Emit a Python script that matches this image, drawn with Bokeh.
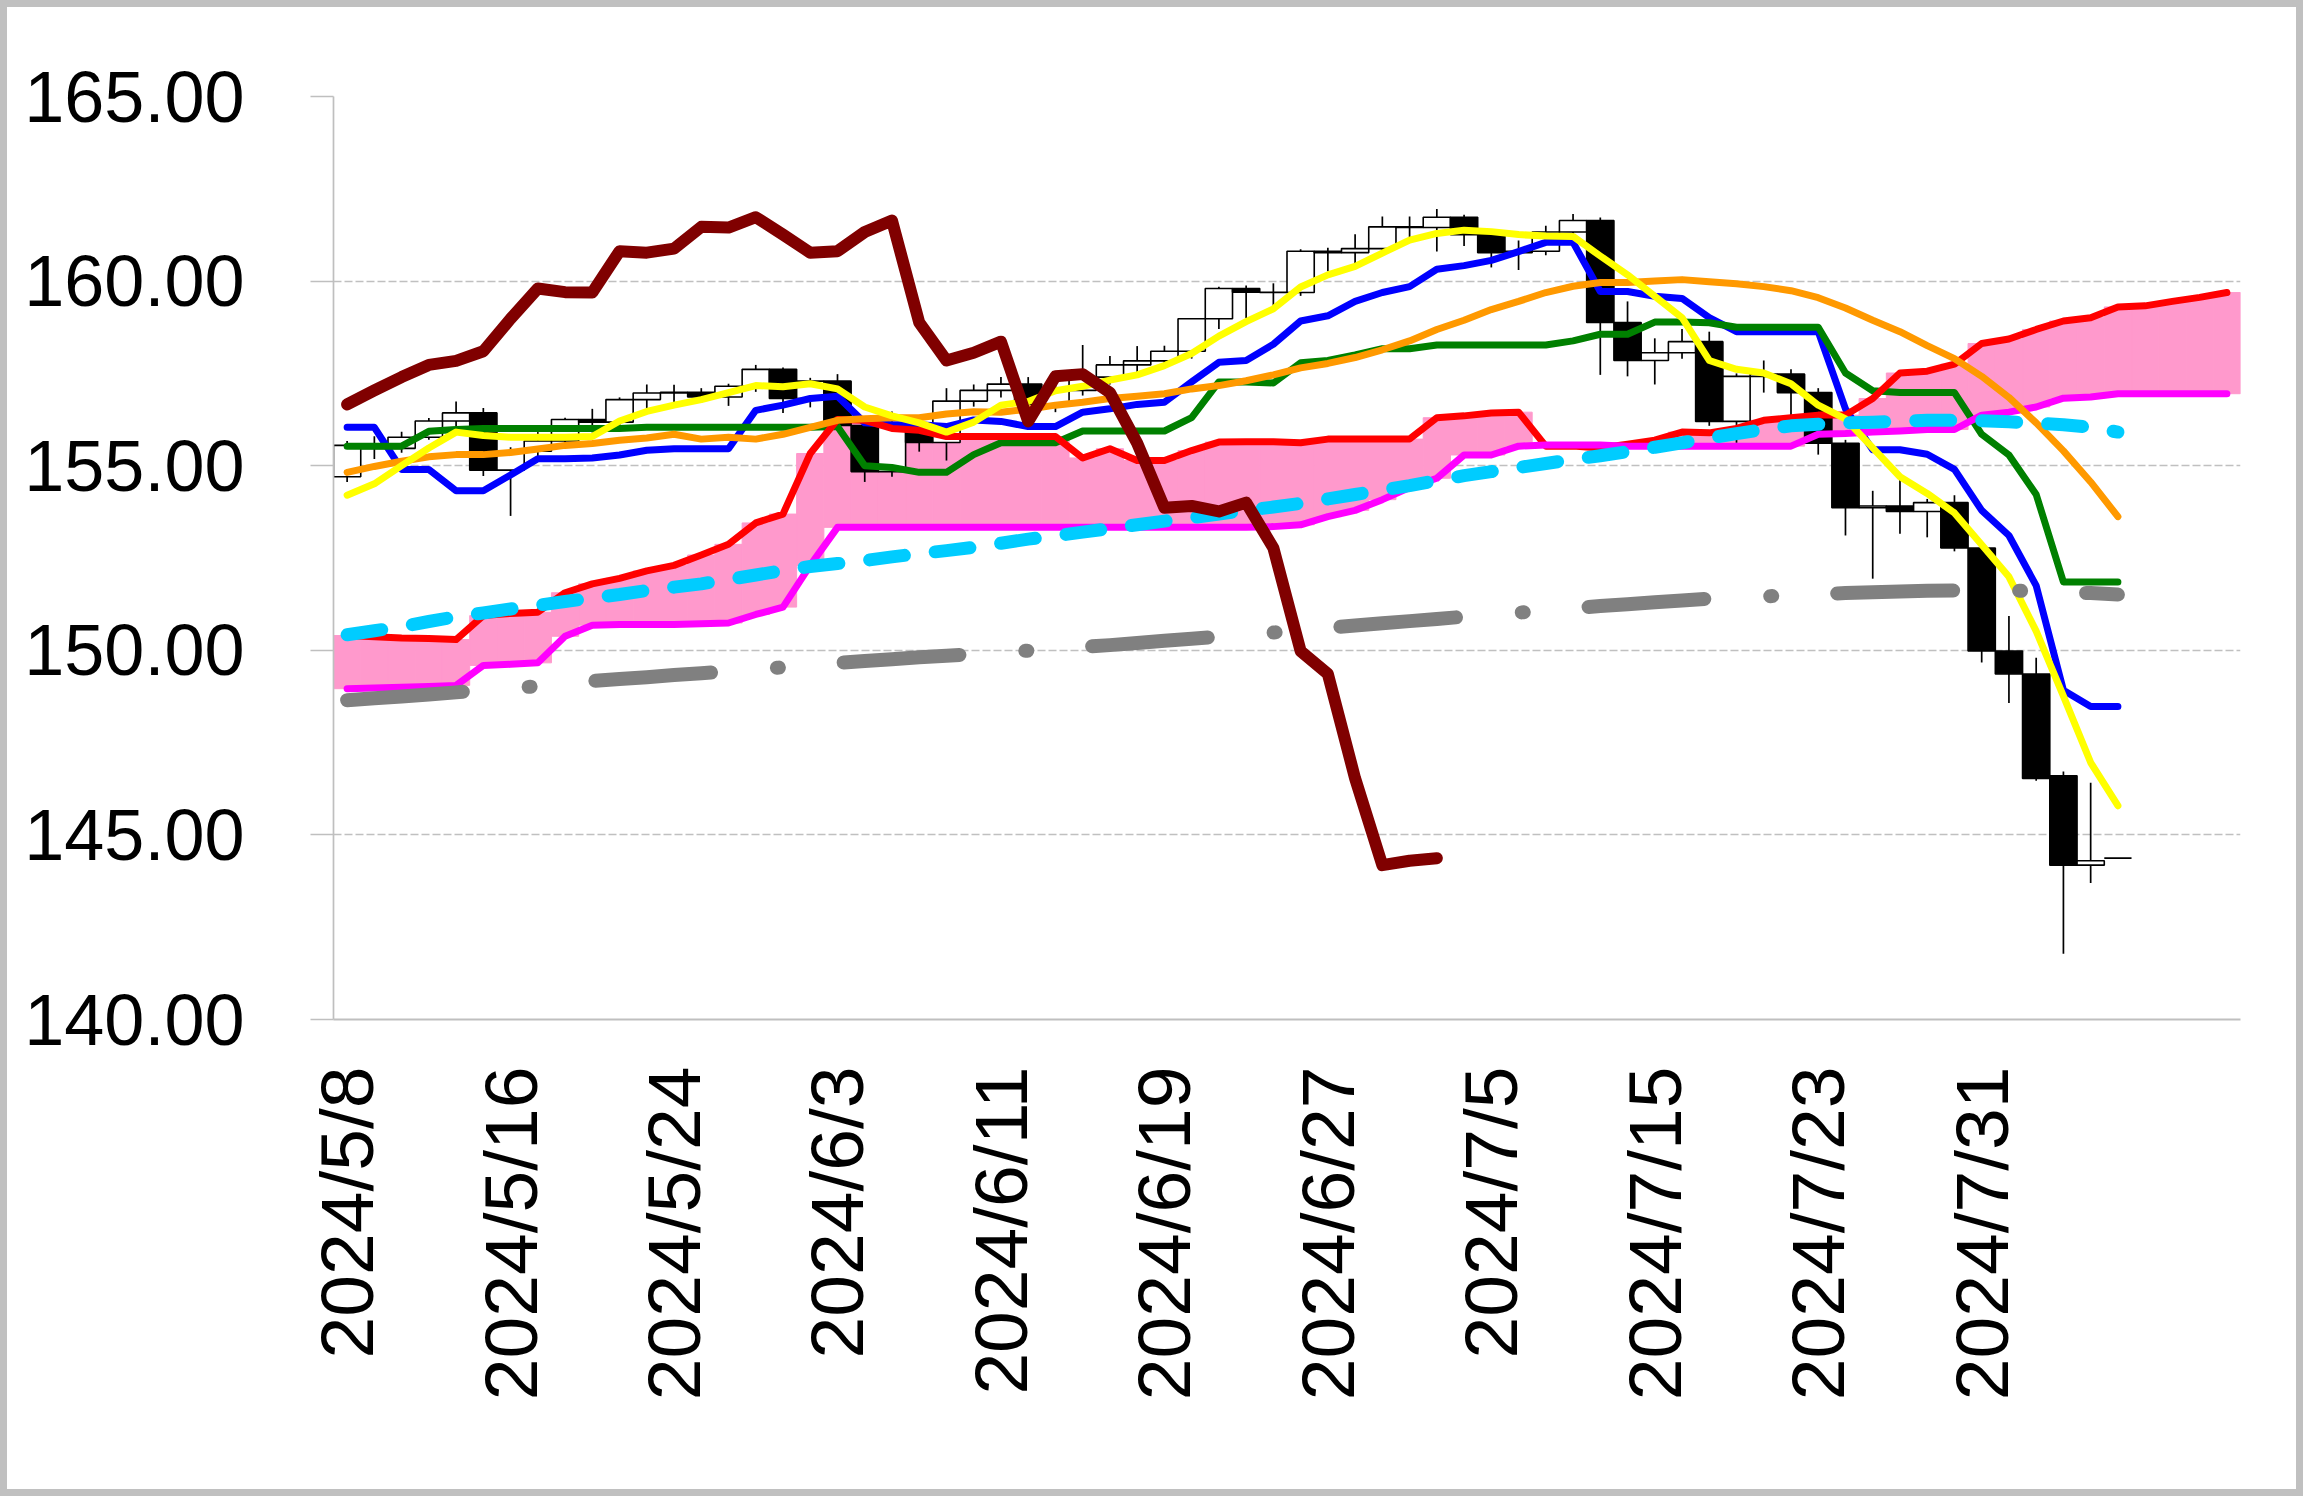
import math
from bokeh.plotting import figure
from bokeh.models import Range1d, FixedTicker, NumeralTickFormatter
from bokeh.embed import file_html
from bokeh.resources import INLINE

# ---------------- data ----------------
dates = [
    "2024/5/8", "2024/5/9", "2024/5/10", "2024/5/13", "2024/5/14", "2024/5/15", "2024/5/16", "2024/5/17",
    "2024/5/20", "2024/5/21", "2024/5/22", "2024/5/23", "2024/5/24", "2024/5/27", "2024/5/28", "2024/5/29",
    "2024/5/30", "2024/5/31", "2024/6/3", "2024/6/4", "2024/6/5", "2024/6/6", "2024/6/7", "2024/6/10",
    "2024/6/11", "2024/6/12", "2024/6/13", "2024/6/14", "2024/6/17", "2024/6/18", "2024/6/19", "2024/6/20",
    "2024/6/21", "2024/6/24", "2024/6/25", "2024/6/26", "2024/6/27", "2024/6/28", "2024/7/1", "2024/7/2",
    "2024/7/3", "2024/7/4", "2024/7/5", "2024/7/8", "2024/7/9", "2024/7/10", "2024/7/11", "2024/7/12",
    "2024/7/15", "2024/7/16", "2024/7/17", "2024/7/18", "2024/7/19", "2024/7/22", "2024/7/23", "2024/7/24",
    "2024/7/25", "2024/7/26", "2024/7/29", "2024/7/30", "2024/7/31", "2024/8/1", "2024/8/2", "2024/8/5",
    "2024/8/6", "2024/8/7", "2024/8/8", "2024/8/9", "2024/8/12", "2024/8/13",
]

open_ = [154.70, 155.55, 155.47, 155.77, 156.21, 156.43, 154.88, 155.39, 155.67, 156.25,
         156.18, 156.79, 156.97, 156.99, 156.86, 157.15, 157.61, 156.82, 157.29, 156.09,
         154.84, 156.11, 155.63, 156.75, 157.04, 157.21, 156.66, 157.04, 157.40, 157.73,
         157.84, 158.10, 158.98, 159.80, 159.70, 159.69, 160.81, 160.77, 160.88, 161.47,
         161.45, 161.73, 161.26, 160.77, 160.81, 161.33, 161.64, 158.88, 157.85, 158.06,
         158.36, 156.20, 157.42, 157.48, 156.98, 155.61, 153.86, 153.91, 153.76, 154.00,
         152.77, 149.98, 149.36, 146.60, 144.18, 144.37]
high = [155.67, 155.80, 155.92, 156.29, 156.74, 156.56, 155.50, 155.91, 156.30, 156.54,
        156.85, 157.20, 157.19, 157.10, 157.22, 157.73, 157.66, 157.38, 157.48, 156.20,
        156.47, 156.25, 157.10, 157.20, 157.40, 157.40, 157.20, 158.27, 157.97, 158.24,
        158.25, 159.00, 159.85, 159.88, 159.94, 160.86, 160.90, 161.27, 161.75, 161.75,
        161.95, 161.80, 161.30, 161.10, 161.50, 161.82, 161.72, 159.45, 158.45, 158.70,
        158.63, 157.50, 157.85, 157.61, 157.10, 155.70, 154.32, 154.70, 154.10, 154.20,
        152.90, 150.93, 149.80, 146.72, 146.41, 144.37]
low = [154.56, 155.18, 155.35, 155.70, 156.00, 154.72, 153.64, 155.10, 155.60, 155.90,
       156.00, 156.54, 156.68, 156.70, 156.62, 157.00, 156.43, 156.58, 156.00, 154.56,
       154.70, 155.38, 155.14, 156.60, 156.85, 156.40, 156.45, 156.90, 157.20, 157.50,
       157.70, 157.90, 158.70, 159.00, 159.30, 159.60, 160.27, 160.46, 160.80, 161.07,
       160.80, 160.95, 160.37, 160.30, 160.70, 161.20, 157.46, 157.42, 157.20, 157.90,
       156.08, 155.62, 156.98, 156.35, 155.30, 153.11, 151.94, 153.16, 153.06, 152.68,
       149.67, 148.57, 146.47, 141.78, 143.70, 144.37]
close = [155.55, 155.47, 155.77, 156.21, 156.43, 154.88, 155.39, 155.67, 156.25, 156.18,
         156.79, 156.97, 156.99, 156.86, 157.15, 157.61, 156.82, 157.29, 156.09, 154.84,
         156.11, 155.63, 156.75, 157.04, 157.21, 156.66, 157.04, 157.40, 157.73, 157.84,
         158.10, 158.98, 159.80, 159.70, 159.69, 160.81, 160.77, 160.88, 161.47, 161.45,
         161.73, 161.26, 160.77, 160.81, 161.33, 161.64, 158.88, 157.85, 158.06, 158.36,
         156.20, 157.42, 157.48, 156.98, 155.61, 153.86, 153.91, 153.76, 154.00, 152.77,
         149.98, 149.36, 146.53, 144.18, 144.30, 144.37]

tenkan = [156.04, 156.04, 154.90, 154.90, 154.32, 154.32, 154.75, 155.19, 155.19, 155.21,
          155.29, 155.42, 155.46, 155.46, 155.46, 156.50, 156.64, 156.82, 156.88, 156.16,
          156.11, 156.11, 156.06, 156.24, 156.20, 156.06, 156.06, 156.45, 156.54, 156.66,
          156.72, 157.27, 157.80, 157.85, 158.29, 158.92, 159.06, 159.45, 159.69, 159.85,
          160.32, 160.42, 160.56, 160.80, 161.05, 161.05, 159.72, 159.72, 159.59, 159.53,
          159.01, 158.63, 158.63, 158.63, 158.63, 156.54, 155.43, 155.43, 155.31, 154.90,
          153.79, 153.11, 151.75, 148.92, 148.48, 148.48]
kijun = [155.53, 155.53, 155.53, 155.93, 155.98, 156.01, 156.01, 156.01, 156.01, 156.01,
         156.01, 156.04, 156.04, 156.04, 156.04, 156.04, 156.04, 156.04, 156.06, 155.00,
         154.95, 154.82, 154.82, 155.30, 155.62, 155.62, 155.62, 155.94, 155.94, 155.94,
         155.94, 156.30, 157.27, 157.27, 157.24, 157.79, 157.85, 158.00, 158.17, 158.17,
         158.27, 158.27, 158.27, 158.27, 158.27, 158.38, 158.56, 158.56, 158.89, 158.89,
         158.87, 158.75, 158.75, 158.75, 158.75, 157.51, 157.03, 156.98, 156.98, 156.98,
         155.85, 155.29, 154.22, 151.85, 151.85, 151.85]
senkou_a = [150.40, 150.37, 150.33, 150.32, 150.29, 150.94, 151.00, 151.03, 151.56, 151.80,
            151.95, 152.15, 152.30, 152.58, 152.87, 153.45, 153.69, 155.33, 156.25, 156.23,
            156.01, 155.96, 155.79, 155.79, 155.79, 155.79, 155.79, 155.21, 155.46, 155.14,
            155.14, 155.41, 155.64, 155.65, 155.65, 155.62, 155.72, 155.72, 155.72, 155.72,
            156.30, 156.35, 156.43, 156.45, 155.53, 155.53, 155.48, 155.58, 155.69, 155.91,
            155.89, 156.01, 156.23, 156.30, 156.37, 156.37, 156.82, 157.51, 157.56, 157.75,
            158.31, 158.43, 158.69, 158.92, 159.01, 159.30, 159.33, 159.45, 159.56, 159.69]
senkou_b = [148.96, 148.98, 149.00, 149.02, 149.05, 149.59, 149.62, 149.66, 150.38, 150.68,
            150.70, 150.70, 150.70, 150.72, 150.74, 150.97, 151.17, 152.30, 153.33, 153.33,
            153.33, 153.33, 153.33, 153.33, 153.33, 153.33, 153.33, 153.33, 153.33, 153.33,
            153.33, 153.33, 153.33, 153.33, 153.35, 153.40, 153.62, 153.79, 154.08, 154.41,
            154.66, 155.29, 155.29, 155.53, 155.56, 155.56, 155.56, 155.53, 155.53, 155.53,
            155.53, 155.53, 155.53, 155.53, 155.85, 155.87, 155.91, 155.94, 155.98, 155.98,
            156.37, 156.45, 156.59, 156.83, 156.86, 156.95, 156.95, 156.95, 156.95, 156.95]
chikou = [156.66, 157.04, 157.40, 157.73, 157.84, 158.10, 158.98, 159.80, 159.70, 159.69,
          160.81, 160.77, 160.88, 161.47, 161.45, 161.73, 161.26, 160.77, 160.81, 161.33,
          161.64, 158.88, 157.85, 158.06, 158.36, 156.20, 157.42, 157.48, 156.98, 155.61,
          153.86, 153.91, 153.76, 154.00, 152.77, 149.98, 149.36, 146.53, 144.18, 144.30,
          144.37]
ma_short = [154.20, 154.51, 155.00, 155.48, 155.91, 155.82, 155.77, 155.77, 155.77, 155.79,
            156.21, 156.47, 156.64, 156.79, 156.98, 157.17, 157.14, 157.22, 157.08, 156.59,
            156.35, 156.16, 155.91, 156.18, 156.64, 156.74, 157.03, 157.15, 157.32, 157.46,
            157.71, 158.04, 158.51, 158.90, 159.25, 159.84, 160.17, 160.40, 160.76, 161.11,
            161.29, 161.38, 161.34, 161.26, 161.22, 161.21, 160.68, 160.17, 159.59, 159.01,
            157.85, 157.61, 157.51, 157.22, 156.64, 156.27, 155.48, 154.70, 154.25, 153.72,
            152.86, 151.99, 150.52, 148.76, 146.96, 145.79]
ma_mid = [154.82, 154.98, 155.12, 155.24, 155.30, 155.30, 155.36, 155.45, 155.55, 155.60,
          155.69, 155.75, 155.85, 155.72, 155.77, 155.72, 155.85, 156.04, 156.23, 156.27,
          156.30, 156.30, 156.40, 156.46, 156.45, 156.53, 156.64, 156.72, 156.82, 156.88,
          156.95, 157.08, 157.17, 157.30, 157.46, 157.65, 157.77, 157.93, 158.14, 158.38,
          158.69, 158.94, 159.23, 159.45, 159.69, 159.86, 159.96, 159.96, 160.00, 160.04,
          159.98, 159.93, 159.85, 159.74, 159.55, 159.27, 158.94, 158.63, 158.25, 157.90,
          157.42, 156.85, 156.16, 155.40, 154.56, 153.62]
ma_long = [150.42, 150.53, 150.64, 150.78, 150.91, 151.01, 151.12, 151.22, 151.32, 151.42,
           151.51, 151.62, 151.71, 151.80, 151.92, 152.04, 152.16, 152.27, 152.35, 152.43,
           152.53, 152.62, 152.70, 152.79, 152.90, 153.01, 153.10, 153.20, 153.30, 153.40,
           153.50, 153.59, 153.69, 153.79, 153.88, 153.98, 154.10, 154.22, 154.34, 154.46,
           154.60, 154.73, 154.84, 154.95, 155.06, 155.17, 155.27, 155.38, 155.50, 155.62,
           155.75, 155.87, 155.98, 156.08, 156.12, 156.16, 156.18, 156.20, 156.23, 156.23,
           156.22, 156.19, 156.15, 156.11, 156.04, 155.91]
ma_very_long = [148.65, 148.70, 148.75, 148.80, 148.86, 148.92, 148.97, 149.03, 149.10, 149.17,
                149.22, 149.27, 149.33, 149.38, 149.43, 149.48, 149.54, 149.60, 149.66, 149.71,
                149.76, 149.81, 149.85, 149.90, 149.95, 149.99, 150.04, 150.09, 150.14, 150.20,
                150.26, 150.31, 150.37, 150.43, 150.48, 150.55, 150.61, 150.67, 150.73, 150.79,
                150.85, 150.91, 150.96, 151.02, 151.08, 151.14, 151.20, 151.25, 151.30, 151.35,
                151.40, 151.43, 151.46, 151.49, 151.52, 151.55, 151.57, 151.59, 151.61, 151.62,
                151.63, 151.62, 151.60, 151.58, 151.55, 151.51]

y_ticks = [140, 145, 150, 155, 160, 165]
label_step = 6

# ---------------- figure ----------------
FONT = "Liberation Sans"
n_all = len(dates)
n_c = len(close)
xs_all = list(range(n_all))
xs_c = list(range(n_c))

p = figure(frame_width=1907, frame_height=923,
           x_range=Range1d(-0.5, n_all - 0.5), y_range=Range1d(140, 165),
           output_backend="svg", toolbar_location=None,
           min_border_left=326, min_border_right=56, min_border_top=89, min_border_bottom=470,
           background_fill_color="white", border_fill_color="white")
p.outline_line_color = None
p.styles = {"border": "7px solid #C0C0C0", "box-sizing": "content-box"}

p.xgrid.visible = False
p.ygrid.grid_line_color = "#C0C0C0"
p.ygrid.grid_line_width = 1.5
p.ygrid.grid_line_dash = "8 3"

p.yaxis.ticker = FixedTicker(ticks=y_ticks)
p.yaxis.formatter = NumeralTickFormatter(format="0.00")
p.yaxis.major_label_text_font = FONT
p.yaxis.major_label_text_font_size = "72px"
p.yaxis.major_label_text_color = "black"
p.yaxis.axis_line_color = "#BFBFBF"
p.yaxis.axis_line_width = 1.7
p.yaxis.major_tick_line_color = "#BFBFBF"
p.yaxis.major_tick_line_width = 1.7
p.yaxis.major_tick_out = 23
p.yaxis.major_tick_in = 0
p.yaxis.minor_tick_line_color = None
p.yaxis.major_label_standoff = 66

tick_pos = list(range(0, n_c - 5, label_step))
p.xaxis.ticker = FixedTicker(ticks=tick_pos)
p.xaxis.major_label_overrides = {t: dates[t] for t in tick_pos}
p.xaxis.major_label_orientation = math.pi / 2
p.xaxis.major_label_text_font = FONT
p.xaxis.major_label_text_font_size = "75px"
p.xaxis.major_label_text_color = "black"
p.xaxis.axis_line_color = "#BFBFBF"
p.xaxis.axis_line_width = 2
p.xaxis.major_tick_line_color = None
p.xaxis.minor_tick_line_color = None
p.xaxis.major_label_standoff = 41

# cloud (between leading spans)
cloud_top = [max(a, b) for a, b in zip(senkou_a, senkou_b)]
cloud_bot = [min(a, b) for a, b in zip(senkou_a, senkou_b)]
p.vbar(x=xs_all, width=1.0, top=cloud_top, bottom=cloud_bot,
       fill_color="#FF99CC", line_color="#FF99CC", line_width=1)

# candles
body_top = [max(o, c) for o, c in zip(open_, close)]
body_bot = [min(o, c) for o, c in zip(open_, close)]
body_col = ["white" if c >= o else "black" for o, c in zip(open_, close)]
p.segment(x0=xs_c, y0=low, x1=xs_c, y1=high, line_color="black", line_width=1.7)
p.vbar(x=xs_c, width=1.0, top=body_top, bottom=body_bot,
       fill_color=body_col, line_color="black", line_width=1.6)

def ln(xv, yv, color, w, dash="solid"):
    p.line(xv, yv, line_color=color, line_width=w, line_join="round",
           line_cap="round", line_dash=dash)

ln(xs_c, tenkan, "#0000FF", 7)
ln(xs_c, kijun, "#008000", 7)
ln(xs_all, senkou_a, "#FF0000", 7)
ln(xs_all, senkou_b, "#FF00FF", 7)
ln(xs_c, ma_mid, "#FF9900", 7)
ln(xs_c, ma_short, "#FFFF00", 7)
ln(xs_c, ma_long, "#00CCFF", 13, "35 31")
ln(xs_c, ma_very_long, "#808080", 14, "116 66 2 65")
ln(list(range(len(chikou))), chikou, "#800000", 12)

open("out.html", "w").write(file_html(p, INLINE))
